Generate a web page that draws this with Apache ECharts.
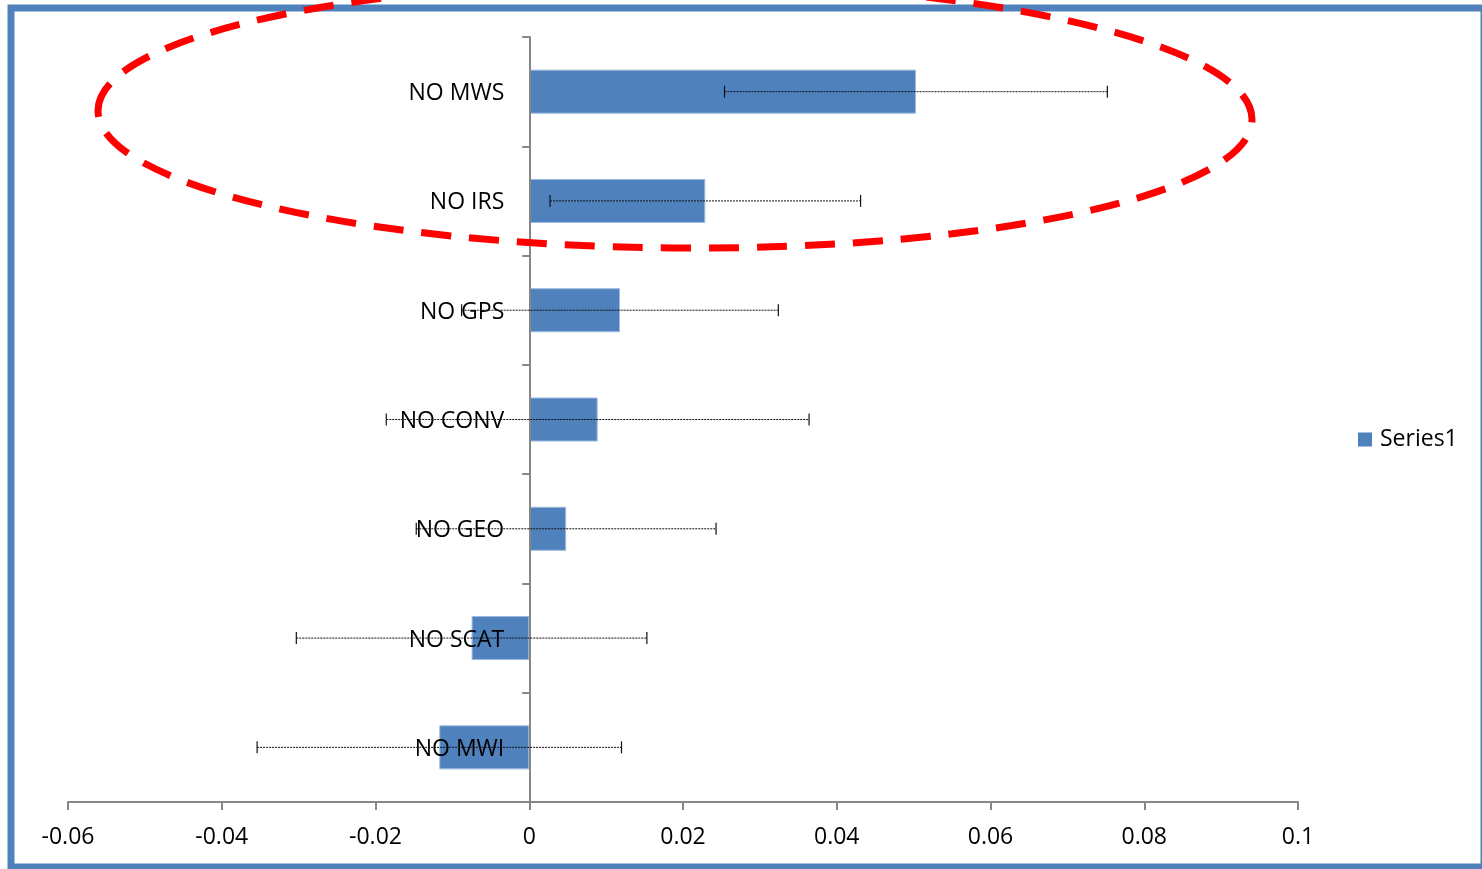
<!DOCTYPE html>
<html>
<head>
<meta charset="utf-8">
<script src="https://cdn.jsdelivr.net/npm/echarts@6/dist/echarts.min.js"></script>
<style>
html,body{margin:0;padding:0;background:#fff;}
#chart{width:1482px;height:869px;}
</style>
</head>
<body>
<div id="chart"></div>
<script>
// categories listed bottom-to-top (category y axis starts at the bottom)
var categories = ['NO MWI', 'NO SCAT', 'NO GEO', 'NO CONV', 'NO GPS', 'NO IRS', 'NO MWS'];
var values = [-0.0117, -0.0075, 0.0048, 0.0089, 0.0118, 0.0229, 0.0503];
var errors = [0.0237, 0.0228, 0.0195, 0.0275, 0.0206, 0.0202, 0.0249];
var xTicks = { min: -0.06, max: 0.1, interval: 0.02 };
var seriesName = 'Series1';

var errorData = values.map(function (v, i) { return [i, v - errors[i], v + errors[i]]; });
var labelData = categories.map(function (c, i) { return [i, 0, c]; });

var FONT = '"Open Sans", "Liberation Sans", sans-serif';
var chart = echarts.init(document.getElementById('chart'), null, { renderer: 'canvas' });

chart.setOption({
  animation: false,
  backgroundColor: '#ffffff',
  grid: { left: 68, right: 184, top: 37, bottom: 67, containLabel: false, outerBoundsMode: 'none' },
  legend: {
    data: [{ name: seriesName, icon: 'rect' }],
    left: 1358, top: 428, padding: 0,
    itemWidth: 14, itemHeight: 14,
    itemStyle: { borderWidth: 0 },
    textStyle: { fontFamily: FONT, fontSize: 23, color: '#000', padding: [0, 0, 0, 3] }
  },
  xAxis: {
    type: 'value',
    min: xTicks.min, max: xTicks.max, interval: xTicks.interval,
    axisLine: { show: true, lineStyle: { color: '#868686', width: 2 } },
    axisTick: { show: true, length: 8, lineStyle: { color: '#868686', width: 2 } },
    splitLine: { show: false },
    axisLabel: {
      fontFamily: FONT, fontSize: 23, color: '#000', margin: 24,
      formatter: function (v) { return String(Math.round(v * 100) / 100); }
    }
  },
  yAxis: {
    type: 'category',
    data: categories,
    z: 3,
    axisLine: { show: true, onZero: true, lineStyle: { color: '#868686', width: 2 } },
    axisTick: { show: true, length: 7, lineStyle: { color: '#868686', width: 2 } },
    axisLabel: { show: false }
  },
  series: [
    {
      name: seriesName,
      type: 'bar',
      data: values,
      barWidth: 44,
      itemStyle: { color: '#4F81BD', borderColor: '#9DB9DC', borderWidth: 1 },
      z: 2
    },
    {
      type: 'custom',
      name: 'catLabels',
      data: labelData,
      encode: { y: 0, x: 1 },
      z: 4,
      silent: true,
      renderItem: function (params, api) {
        var i = api.value(0);
        var p = api.coord([0, i]);
        return {
          type: 'text',
          x: p[0] - 25, y: p[1] + 2,
          style: {
            text: categories[i],
            fill: '#000',
            font: '23px ' + FONT,
            align: 'right',
            verticalAlign: 'middle'
          }
        };
      }
    },
    {
      type: 'custom',
      name: 'err',
      data: errorData,
      encode: { y: 0, x: [1, 2] },
      z: 5,
      renderItem: function (params, api) {
        var c = api.value(0);
        var p1 = api.coord([api.value(1), c]);
        var p2 = api.coord([api.value(2), c]);
        var h = 6;
        var st = { stroke: '#111', lineWidth: 1, lineDash: [2, 1] };
        var cap = { stroke: '#111', lineWidth: 1.2 };
        return {
          type: 'group',
          children: [
            { type: 'line', shape: { x1: p1[0], y1: p1[1], x2: p2[0], y2: p2[1] }, style: st },
            { type: 'line', shape: { x1: p1[0], y1: p1[1] - h, x2: p1[0], y2: p1[1] + h }, style: cap },
            { type: 'line', shape: { x1: p2[0], y1: p2[1] - h, x2: p2[0], y2: p2[1] + h }, style: cap }
          ]
        };
      }
    }
  ],
  graphic: [
    {
      type: 'rect', z: 100, silent: true,
      shape: { x: 11, y: 8, width: 1473, height: 859 },
      style: { fill: 'none', stroke: '#4F81BD', lineWidth: 7 }
    },
    {
      type: 'ellipse', z: 101, silent: true,
      originX: 675, originY: 115, rotation: -0.008,
      shape: { cx: 675, cy: 115, rx: 577, ry: 133 },
      style: { fill: 'none', stroke: '#FF0000', lineWidth: 7, lineDash: [30, 18] }
    }
  ]
});
</script>
</body>
</html>
